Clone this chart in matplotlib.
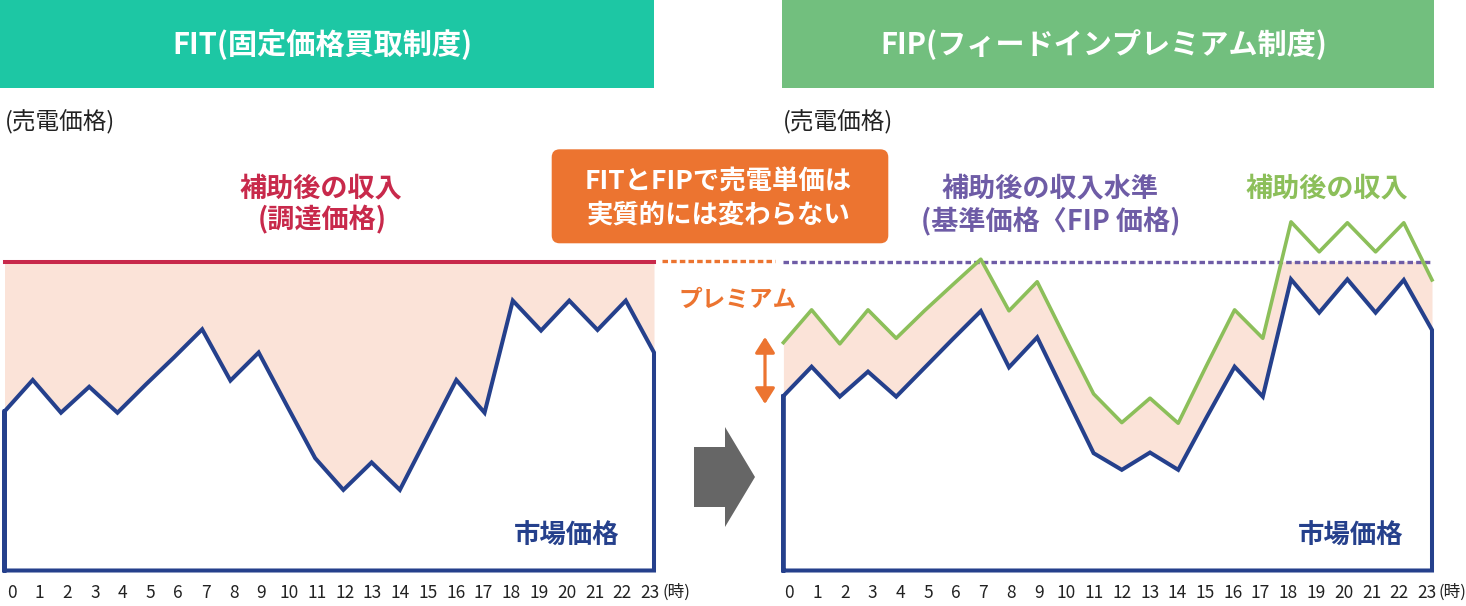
import matplotlib
matplotlib.use("Agg")
import matplotlib.pyplot as plt
from matplotlib import patches

plt.rcParams['font.family'] = ['Noto Sans CJK JP', 'DejaVu Sans']

# ---- data ----
hours = list(range(24))
hour_labels = [str(h) for h in hours]

fit_price = 100          # procurement price (FIT)
fip_base_price = 100     # base price (FIP)

market_fit = [51.5, 61.7, 51.1, 59.5, 51.1, 60.2, 69.0, 78.1, 61.5, 70.6, 53.4, 36.4,
              26.1, 35.0, 26.1, 43.9, 61.7, 51.1, 87.4, 77.7, 87.4, 77.9, 87.4, 70.6]

market_fip = [56.5, 66.0, 56.3, 64.4, 56.3, 65.6, 74.9, 84.0, 65.8, 75.5, 56.7, 38.0,
              32.6, 38.2, 32.6, 49.5, 66.0, 56.3, 94.3, 83.5, 94.3, 83.5, 94.1, 77.9]

fip_income = [73.8, 84.4, 73.4, 84.4, 75.2, 84.1, 92.5, 100.8, 84.1, 93.5, 75.2, 57.2,
              47.9, 55.8, 47.7, 66.3, 84.4, 75.2, 112.9, 103.2, 112.6, 103.2, 112.6, 94.1]

# ---- colours ----
NAVY = '#25408C'
RED = '#C8294B'
FILL = '#FBE3D8'
GREEN = '#8CBF5A'
PURPLE = '#6E5CA6'
ORANGE = '#EC7430'
TEAL_HEAD = '#1DC7A4'
GREEN_HEAD = '#72BF7E'

W, H = 1466, 606
fig = plt.figure(figsize=(W / 100, H / 100), dpi=100)


def px_axes(x0, x1, y_top, y_bot):
    # axes placed by pixel edges (y measured from the top)
    return fig.add_axes([x0 / W, 1 - y_bot / H, (x1 - x0) / W, (y_bot - y_top) / H])


def market_outline(ax, values):
    xs = [0] + hours + [23, 0, 0]
    ys = [0] + values + [0, 0, values[0]]
    ax.plot(xs, ys, color=NAVY, lw=2.9, solid_joinstyle='miter', clip_on=False, zorder=5)


def style_axes(ax, label_offset):
    ax.set_xlim(0, 23)
    ax.set_ylim(0, 100)
    for s in ax.spines.values():
        s.set_visible(False)
    ax.set_yticks([])
    pos = [label_offset + 0.983 * h for h in hours]
    ax.set_xticks(pos, hour_labels)
    ax.tick_params(axis='x', length=0, pad=10, labelsize=12.5, labelcolor='#222222')
    ax.patch.set_visible(False)


# ---- left chart: FIT ----
axl = px_axes(4.5, 654, 261.7, 570.5)
style_axes(axl, 0.25)
axl.fill_between(hours, market_fit, fit_price, color=FILL, lw=0, zorder=1)
axl.plot([0, 23], [fit_price, fit_price], color=RED, lw=2.9, clip_on=False, zorder=4)
market_outline(axl, market_fit)
axl.text(19.9, 11, '市場価格', ha='center', va='center', fontsize=19,
         fontweight='bold', color=NAVY)

# ---- right chart: FIP ----
axr = px_axes(783.4, 1432, 261.7, 570.5)
style_axes(axr, 0.21)
axr.fill_between(hours, market_fip, fip_income, color=FILL, lw=0, zorder=1)
axr.plot([0, 23], [fip_base_price, fip_base_price], color=PURPLE, lw=2.4,
         ls=(0, (1.65, 0.95)), clip_on=False, zorder=3)
axr.plot(hours, fip_income, color=GREEN, lw=2.6, clip_on=False, zorder=4)
market_outline(axr, market_fip)
axr.text(20.1, 11, '市場価格', ha='center', va='center', fontsize=19,
         fontweight='bold', color=NAVY)

# ---- overlay in pixel coordinates for headers, notes and arrows ----
ov = fig.add_axes([0, 0, 1, 1])
ov.set_xlim(0, W)
ov.set_ylim(H, 0)
ov.axis('off')

ov.add_patch(patches.Rectangle((0, 0), 654, 88, color=TEAL_HEAD, lw=0))
ov.add_patch(patches.Rectangle((781.6, 0), 652.4, 88, color=GREEN_HEAD, lw=0))
ov.text(322, 45, 'FIT(固定価格買取制度)', ha='center', va='center', fontsize=21,
        fontweight='bold', color='white')
ov.text(1103.5, 45, 'FIP(フィードインプレミアム制度)', ha='center', va='center',
        fontsize=21, fontweight='bold', color='white')

ov.text(4.5, 122, '(売電価格)', ha='left', va='center', fontsize=17, color='#222222')
ov.text(783, 122, '(売電価格)', ha='left', va='center', fontsize=17, color='#222222')

# hour unit after the last tick label
ov.text(662, 592, '(時)', ha='left', va='center', fontsize=12, color='#222222')
ov.text(1439, 592, '(時)', ha='left', va='center', fontsize=12, color='#222222')

ov.text(321, 188, '補助後の収入', ha='center', va='center', fontsize=19.5,
        fontweight='bold', color=RED)
ov.text(322, 220, '(調達価格)', ha='center', va='center', fontsize=19.5,
        fontweight='bold', color=RED)

ov.add_patch(patches.FancyBboxPatch((551.7, 149.3), 336.6, 94,
                                    boxstyle='round,pad=0,rounding_size=8',
                                    color=ORANGE, lw=0))
ov.text(718, 182, 'FITとFIPで売電単価は', ha='center', va='center', fontsize=19,
        fontweight='bold', color='white')
ov.text(719, 215, '実質的には変わらない', ha='center', va='center', fontsize=19,
        fontweight='bold', color='white')

ov.text(1050.5, 188, '補助後の収入水準', ha='center', va='center', fontsize=19.5,
        fontweight='bold', color=PURPLE)
ov.text(1051, 222, '(基準価格〈FIP 価格)', ha='center', va='center', fontsize=19.5,
        fontweight='bold', color=PURPLE)
ov.text(1327, 188, '補助後の収入', ha='center', va='center', fontsize=19.5,
        fontweight='bold', color=GREEN)

# dotted link between the two price levels
ov.plot([661.7, 775], [261, 261], color=ORANGE, lw=2.4, ls=(0, (1.65, 0.95)))
ov.text(738, 300, 'プレミアム', ha='center', va='center', fontsize=17,
        fontweight='bold', color=ORANGE)
ov.add_patch(patches.FancyArrowPatch((765, 337), (765, 404),
                                     arrowstyle='<|-|>,head_length=0.95,head_width=0.6',
                                     mutation_scale=10, color=ORANGE, lw=2.3,
                                     shrinkA=0, shrinkB=0))

# grey block arrow FIT -> FIP
ov.add_patch(patches.FancyArrow(694, 477, 61, 0, width=60, head_width=100,
                                head_length=30, length_includes_head=True,
                                color='#666666', lw=0))

fig.savefig('out.png', dpi=100)
